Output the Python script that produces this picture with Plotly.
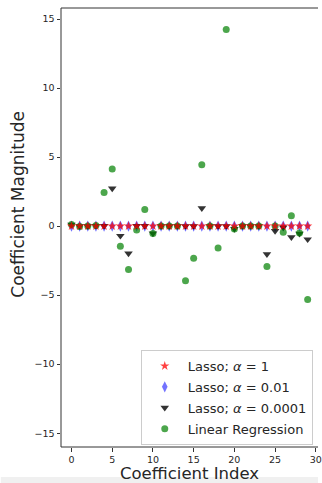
import plotly.graph_objects as go

coef_index = list(range(30))

lasso_alpha_1 = [0.0] * 30
lasso_alpha_001 = [0.0] * 30
lasso_alpha_00001 = [0.1, 0.0, 0.0, 0.02, 0.02, 2.73, -0.70, -1.98, 0.02, 0.02,
                     -0.53, 0.0, 0.0, 0.0, 0.0, 0.0, 1.30, 0.0, 0.0, 0.0,
                     -0.20, 0.0, 0.0, 0.0, -2.03, -0.35, -0.10, -0.80, -0.55, -0.96]
linear_regression = [0.12, -0.02, 0.0, 0.04, 2.44, 4.13, -1.45, -3.14, -0.29, 1.21,
                     -0.53, 0.0, 0.0, 0.0, -3.96, -2.32, 4.44, 0.0, -1.59, 14.25,
                     -0.20, 0.0, 0.0, 0.0, -2.92, 0.0, -0.44, 0.75, -0.50, -5.31]

y_ticks = [-15, -10, -5, 0, 5, 10, 15]
x_ticks = [0, 5, 10, 15, 20, 25, 30]

# (name, values, symbol, colour, size, legend rank) in drawing order
series = [
    ("Lasso; <i>α</i> = 0.01", lasso_alpha_001, "diamond-tall", "rgba(0,0,255,0.55)", 8, 2),
    ("Lasso; <i>α</i> = 0.0001", lasso_alpha_00001, "triangle-down", "rgba(0,0,0,0.8)", 7.5, 3),
    ("Linear Regression", linear_regression, "circle", "rgba(0,128,0,0.7)", 7, 4),
    ("Lasso; <i>α</i> = 1", lasso_alpha_1, "star", "rgba(255,0,0,0.75)", 7, 1),
]

fig = go.Figure()
for name, vals, sym, col, size, rank in series:
    fig.add_trace(go.Scatter(
        x=coef_index, y=vals, mode="markers", name=name,
        marker=dict(symbol=sym, color=col, size=size, line=dict(width=0)),
        legendrank=rank, legendgroup=name,
    ))

W, H = 322, 483
L, R, T, B = 61, 0, 8, 36
pw, ph = W - L - R, H - T - B

axis_common = dict(
    showgrid=False, zeroline=False, showline=False,
    ticks="outside", ticklen=3.5, tickwidth=1, tickcolor="#333333",
    ticklabeloverflow="allow",
    tickfont=dict(family="DejaVu Sans", size=9.5, color="#262626"),
)

spine = dict(color="#333333", width=1)

fig.update_layout(
    width=W, height=H,
    margin=dict(l=L, r=R, t=T, b=B, pad=0),
    paper_bgcolor="white", plot_bgcolor="white",
    font=dict(family="DejaVu Sans", color="#262626"),
    xaxis=dict(range=[-1.29, 30.27], tickvals=x_ticks, **axis_common),
    yaxis=dict(range=[-16.0, 15.8], tickvals=y_ticks, **axis_common),
    legend=dict(
        x=(142 - L) / pw, y=(447 - 350) / ph, xanchor="left", yanchor="top",
        bgcolor="rgba(255,255,255,0.85)", bordercolor="#cccccc", borderwidth=1,
        font=dict(family="DejaVu Sans", size=13, color="#262626"),
        tracegroupgap=1, itemsizing="trace", itemwidth=36,
    ),
    showlegend=True,
    annotations=[
        dict(text="Coefficient Index", xref="paper", yref="paper",
             x=(191 - L) / pw, y=-(473 - 447) / ph, xanchor="center", yanchor="middle",
             showarrow=False, font=dict(family="DejaVu Sans", size=16.5, color="#262626")),
        dict(text="Coefficient Magnitude", xref="paper", yref="paper",
             x=(17 - L) / pw, y=(447 - 204) / ph, xanchor="center", yanchor="middle",
             textangle=-90, showarrow=False,
             font=dict(family="DejaVu Sans", size=17, color="#262626")),
    ],
    shapes=[
        dict(type="line", xref="paper", yref="paper", layer="above",
             x0=0, x1=0, y0=0, y1=1, line=spine),
        dict(type="line", xref="paper", yref="paper", layer="above",
             x0=0, x1=1, y0=0, y1=0, line=spine),
        dict(type="line", xref="paper", yref="paper", layer="above",
             x0=0, x1=1, y0=1, y1=1, line=spine),
        dict(type="rect", xref="paper", yref="paper", layer="above",
             x0=-L / pw, x1=1.0, y0=-B / ph, y1=-(477 - 447) / ph,
             fillcolor="rgba(225,225,225,0.5)", line=dict(width=0)),
    ],
)

fig.write_html("out.html", config={"displayModeBar": False},
               post_script="document.body.style.margin='0';document.body.style.overflow='hidden';")
